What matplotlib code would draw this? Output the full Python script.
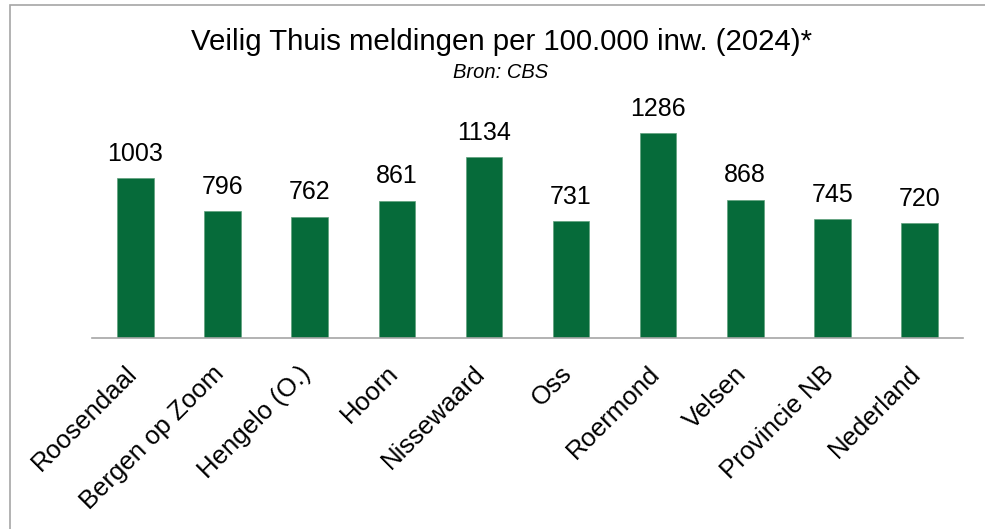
import matplotlib
matplotlib.use("Agg")
import matplotlib.pyplot as plt
import matplotlib.transforms as mtransforms
from matplotlib.patches import Rectangle

categories = ["Roosendaal", "Bergen op Zoom", "Hengelo (O.)", "Hoorn", "Nissewaard",
              "Oss", "Roermond", "Velsen", "Provincie NB", "Nederland"]
values = [1003, 796, 762, 861, 1134, 731, 1286, 868, 745, 720]
title = "Veilig Thuis meldingen per 100.000 inw. (2024)*"
subtitle = "Bron: CBS"

plt.rcParams['font.family'] = ['Liberation Sans', 'DejaVu Sans']
W, H = 985, 529
fig = plt.figure(figsize=(W / 100, H / 100), dpi=100)

# outer frame (partly clipped, as in the reference)
fig.patches.append(Rectangle((10 / W, -0.1), 1.2, 1 - 5 / H + 0.1, transform=fig.transFigure,
                             fill=False, edgecolor="#a6a6a6", linewidth=1.2))

left, right, base, top = 92, 963, 338, 70
ax = fig.add_axes([left / W, 1 - base / H, (right - left) / W, (base - top) / H])
scale = 205 / 1286
ax.set_ylim(0, (base - top) / scale)
ax.set_xlim(-0.5, len(categories) - 0.5)

x = range(len(categories))
bars = ax.bar(x, values, width=0.42, color="#066B3A", edgecolor="#5fa07c", linewidth=0.5)
for xi, v in zip(x, values):
    ax.annotate(str(v), (xi, v), xytext=(0, 9), textcoords="offset points",
                ha="center", va="bottom", fontsize=18, color="black")

for s in ["top", "right", "left"]:
    ax.spines[s].set_visible(False)
ax.spines["bottom"].set_color("#a6a6a6")
ax.spines["bottom"].set_linewidth(1.2)
ax.set_yticks([])
ax.set_xticks(list(x))
ax.set_xticklabels(categories, rotation=45, ha="right", rotation_mode="anchor", fontsize=18.5)
ax.tick_params(axis="x", length=0, pad=14)
offset = mtransforms.ScaledTranslation(-0.11, -0.04, fig.dpi_scale_trans)
for lbl in ax.get_xticklabels():
    lbl.set_transform(lbl.get_transform() + offset)

fig.text(501 / W, 1 - 42 / H, title, ha="center", va="center", fontsize=21.2)
fig.text(501 / W, 1 - 72 / H, subtitle, ha="center", va="center", fontsize=14.5, style="italic")

fig.savefig("out.png", dpi=100)
